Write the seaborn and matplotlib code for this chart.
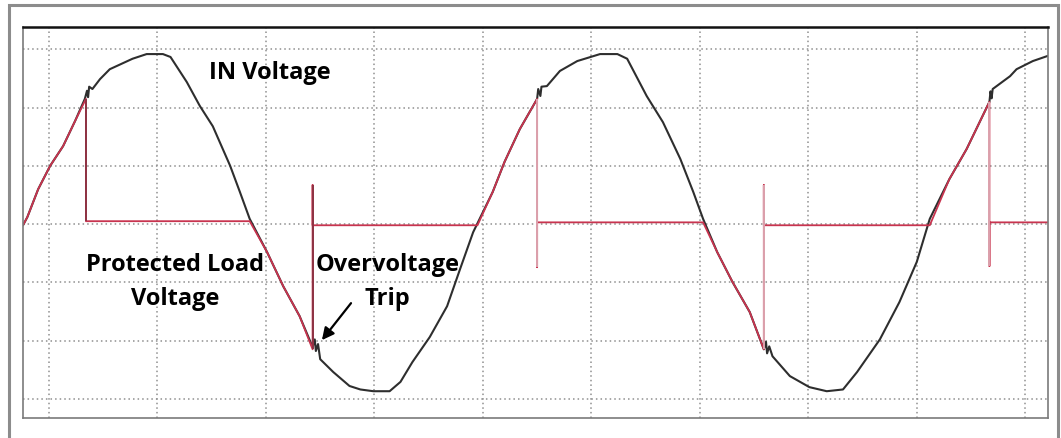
import numpy as np
import pandas as pd
import seaborn as sns
import matplotlib.pyplot as plt
from matplotlib.patches import Rectangle

# scope trace, in grid divisions (x: time, y: volts)
in_t = [-0.24, -0.20, -0.10, 0.01, 0.13, 0.24, 0.33, 0.35, 0.36, 0.37, 0.40, 0.47, 0.56, 0.77,
        0.90, 1.05, 1.12, 1.27, 1.39, 1.51, 1.67, 1.76, 1.85, 2.01, 2.16, 2.31, 2.43, 2.45,
        2.46, 2.48, 2.50, 2.62, 2.77, 2.87, 2.99, 3.14, 3.24, 3.35, 3.51, 3.67, 3.79, 3.91,
        3.97, 4.09, 4.20, 4.34, 4.50, 4.51, 4.53, 4.54, 4.59, 4.71, 4.87, 5.08, 5.24, 5.33,
        5.51, 5.66, 5.82, 5.94, 6.03, 6.16, 6.30, 6.46, 6.59, 6.61, 6.62, 6.64, 6.67, 6.83,
        7.01, 7.17, 7.32, 7.45, 7.66, 7.84, 8.00, 8.12, 8.30, 8.46, 8.67, 8.68, 8.69, 8.70,
        8.86, 8.92, 9.07, 9.21]
in_v = [-0.02, 0.12, 0.60, 1.00, 1.34, 1.77, 2.15, 2.29, 2.18, 2.36, 2.32, 2.49, 2.66, 2.84,
        2.92, 2.92, 2.87, 2.44, 2.03, 1.68, 1.00, 0.55, 0.09, -0.48, -1.07, -1.58, -2.11, -1.98,
        -2.18, -2.06, -2.32, -2.54, -2.78, -2.84, -2.87, -2.87, -2.71, -2.37, -1.94, -1.41, -0.77, -0.14,
        0.09, 0.55, 1.07, 1.63, 2.15, 2.32, 2.20, 2.36, 2.37, 2.63, 2.80, 2.92, 2.92, 2.84,
        2.20, 1.75, 1.12, 0.55, 0.09, -0.48, -0.99, -1.51, -2.15, -2.02, -2.22, -2.10, -2.27, -2.61,
        -2.80, -2.87, -2.84, -2.54, -1.98, -1.34, -0.65, 0.09, 0.77, 1.29, 2.10, 2.28, 2.16, 2.32,
        2.54, 2.66, 2.80, 2.89]

load_t = [-0.24, -0.20, -0.10, 0.01, 0.13, 0.24, 0.34, 0.34, 1.85, 2.01, 2.16, 2.31, 2.43, 2.43,
          2.43, 3.95, 4.09, 4.20, 4.34, 4.50, 4.50, 4.50, 6.03, 6.16, 6.30, 6.46, 6.59, 6.59,
          6.59, 8.12, 8.30, 8.46, 8.67, 8.67, 8.67, 9.21]
load_v = [-0.02, 0.12, 0.60, 1.00, 1.34, 1.77, 2.15, 0.05, 0.05, -0.48, -1.07, -1.58, -2.15, 0.67,
          -0.02, -0.02, 0.55, 1.07, 1.63, 2.15, -0.74, 0.03, 0.03, -0.48, -0.99, -1.51, -2.15, 0.67,
          -0.02, -0.02, 0.77, 1.29, 2.10, -0.72, 0.03, 0.03]

trip_t = [0.34, 2.43, 4.50, 6.59, 8.67]
trip_lo = [0.05, -2.15, -0.74, -2.15, -0.72]
trip_hi = [2.15, 0.67, 2.15, 0.67, 2.10]
trip_col = ['#8e3344', '#8e3344', '#dca3ae', '#dca3ae', '#dca3ae']

df_in = pd.DataFrame({'t': in_t, 'v': in_v})
df_load = pd.DataFrame({'t': load_t, 'v': load_v})

sns.set_style('white')
plt.rcParams['font.family'] = ['Open Sans', 'DejaVu Sans']

fig = plt.figure(figsize=(10.61, 4.39), dpi=100)
ax = fig.add_axes([23 / 1061, 20 / 439, 1025 / 1061, 391 / 439])

# outer frame (bottom edge runs off the canvas)
fig.patches.append(Rectangle((9 / 1061, -0.2), 1049 / 1061, 1.2 - 6 / 439,
                             transform=fig.transFigure, fill=False,
                             edgecolor='#8c8c8c', linewidth=2.2))

sns.lineplot(data=df_in, x='t', y='v', sort=False, estimator=None,
             color='#2e2e2e', linewidth=1.5, ax=ax)
sns.lineplot(data=df_load, x='t', y='v', sort=False, estimator=None,
             color='#c8344f', linewidth=1.3, ax=ax)
ax.vlines(trip_t, trip_lo, trip_hi, colors=trip_col, linewidth=1.4)

ax.set_xlim(-0.24, 9.21)
ax.set_ylim(-3.33, 3.385)
ax.set_xticks(np.arange(0, 10))
ax.set_yticks(np.arange(-3, 4))
ax.grid(True, color='#8f8f8f', linestyle=(0, (1, 2)), linewidth=1.1)
ax.tick_params(length=0, labelbottom=False, labelleft=False)
ax.set_xlabel('')
ax.set_ylabel('')
for side in ['left', 'right', 'bottom']:
    ax.spines[side].set_color('#7a7a7a')
    ax.spines[side].set_linewidth(1.2)
ax.spines['top'].set_color('#111111')
ax.spines['top'].set_linewidth(1.8)

ax.text(2.04, 2.61, 'IN Voltage', ha='center', va='center',
        fontsize=17, fontweight='bold', color='black')
ax.text(1.16, -0.98, 'Protected Load\nVoltage', ha='center', va='center',
        fontsize=17, fontweight='bold', color='black', linespacing=1.55)
ax.text(3.12, -0.98, 'Overvoltage\nTrip', ha='center', va='center',
        fontsize=17, fontweight='bold', color='black', linespacing=1.55)
ax.annotate('', xy=(2.50, -2.03), xytext=(2.80, -1.32),
            arrowprops=dict(arrowstyle='-|>', color='black', lw=1.6, mutation_scale=18))

fig.savefig('out.png', dpi=100)
